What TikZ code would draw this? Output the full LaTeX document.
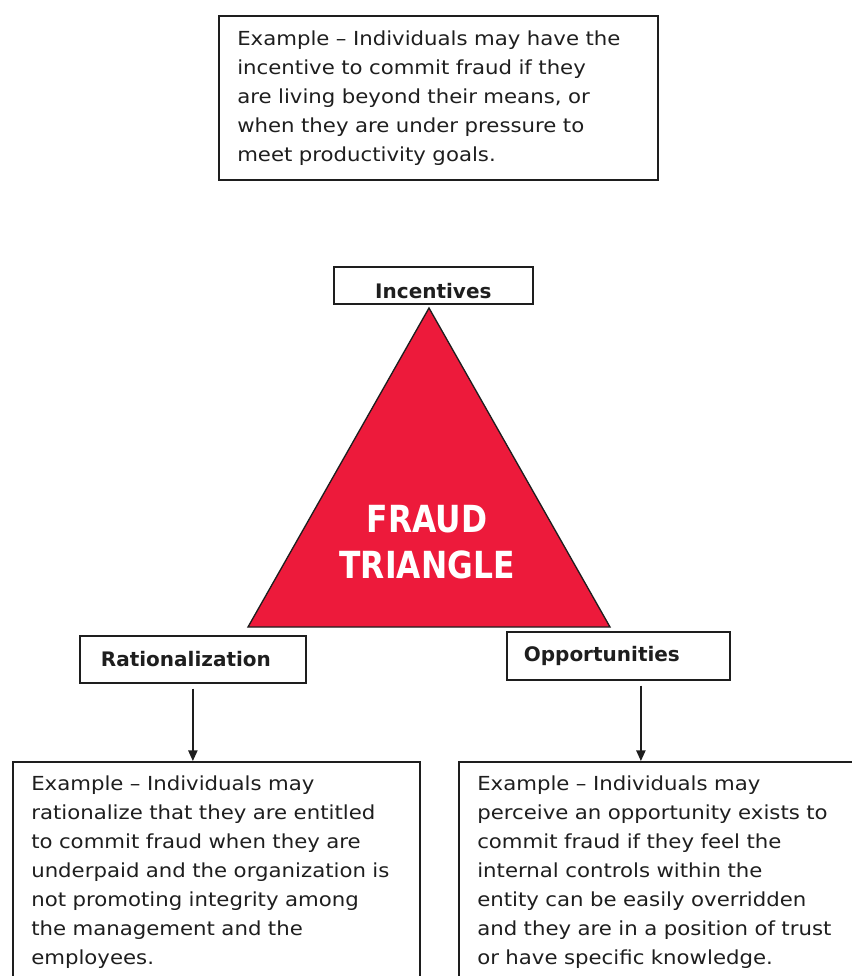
\documentclass[tikz,border=0pt]{standalone}
\usepackage{fontspec}
\setmainfont{DejaVu Sans}
\newfontfamily\bodyfont[FakeStretch=1.1]{DejaVu Sans}
\newfontfamily\titlefont[FakeStretch=0.84]{DejaVu Sans}
\usetikzlibrary{arrows.meta,calc}
\definecolor{fraudred}{RGB}{237,26,59}
\definecolor{ink}{RGB}{30,30,30}
\begin{document}
\begin{tikzpicture}[x=0.75pt,y=-0.75pt,
  every node/.style={text=ink},
  examplebox/.style={draw=ink,line width=1.3pt,anchor=north west,align=left,
    inner xsep=13.8pt,inner ysep=0pt,
    font=\bodyfont\fontsize{14.5}{21.8}\selectfont},
  labelbox/.style={draw=ink,line width=1.3pt,anchor=north west,inner sep=0pt,
    font=\bfseries\fontsize{15}{17}\selectfont},
  linkarrow/.style={draw=ink,line width=1pt,-{Triangle[length=8pt,width=7pt]}}]
\useasboundingbox (0,0) rectangle (852,976);

% example for incentives
\node[examplebox,minimum width=329.25pt,minimum height=123pt,text width=301.65pt]
  (exI) at (218,15)
  {Example – Individuals may have the\\
   incentive to commit fraud if they\\
   are living beyond their means, or\\
   when they are under pressure to\\
   meet productivity goals.};

% the triangle
\coordinate (apex) at (429,308);
\coordinate (bl) at (248,627);
\coordinate (br) at (610,627);
\filldraw[fill=fraudred,draw=ink,line width=1pt,line join=miter] (apex) -- (bl) -- (br) -- cycle;
\node[text=white,align=center,font=\titlefont\bfseries\fontsize{28}{34}\selectfont]
  (fraud) at (427,542) {FRAUD\\TRIANGLE};

% corner labels
\node[labelbox,minimum width=149.25pt,minimum height=27.75pt] (inc) at (333,266)
  {\raisebox{-9.8pt}[0pt][0pt]{Incentives}};
\node[labelbox,minimum width=169.5pt,minimum height=35.25pt,align=left,
  text width=138pt] (rat) at (79,635)
  {Rationalization};
\node[labelbox,minimum width=167.25pt,minimum height=36pt,align=left,
  text width=141.75pt] (opp) at (506,631)
  {Opportunities};

% examples for rationalization and opportunities
\node[examplebox,minimum width=305.25pt,minimum height=165.75pt,text width=277.65pt]
  (exR) at (12,761)
  {Example – Individuals may\\
   rationalize that they are entitled\\
   to commit fraud when they are\\
   underpaid and the organization is\\
   not promoting integrity among\\
   the management and the\\
   employees.};
\node[examplebox,minimum width=309pt,minimum height=165.75pt,text width=281.4pt]
  (exO) at (458,761)
  {Example – Individuals may\\
   perceive an opportunity exists to\\
   commit fraud if they feel the\\
   internal controls within the\\
   entity can be easily overridden\\
   and they are in a position of trust\\
   or have specific knowledge.};

% connectors
\draw[linkarrow] ([yshift=-3.75pt]rat.south) -- (rat.south |- exR.north);
\draw[linkarrow] ([xshift=16.9pt,yshift=-3.75pt]opp.south) -- ([xshift=16.9pt]opp.south |- exO.north);
\end{tikzpicture}
\end{document}
